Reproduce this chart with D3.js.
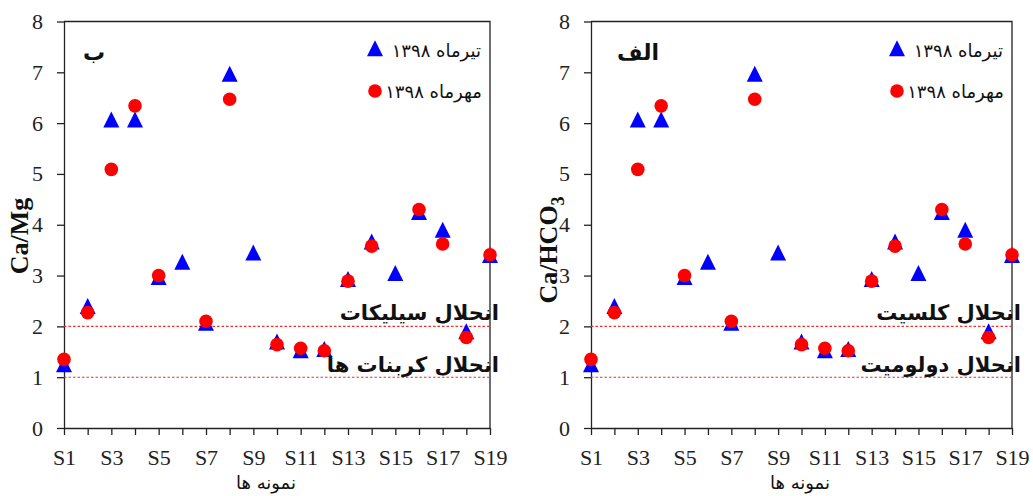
<!DOCTYPE html>
<html>
<head>
<meta charset="utf-8">
<style>
  body { margin: 0; background: #fff; }
  .axis text { font-family: "Liberation Serif", "Times New Roman", serif; font-size: 22px; fill: #222; }
  .axis path, .axis line { stroke: #222; stroke-width: 1.3; }
  .fa { font-family: "DejaVu Sans", "Noto Sans", sans-serif; }
</style>
</head>
<body>
<div id="chart"></div>
<script src="https://d3js.org/d3.v7.min.js"></script>
<script>

// samples on the x axis
var samples = ["S1","S2","S3","S4","S5","S6","S7","S8","S9","S10","S11","S12","S13","S14","S15","S16","S17","S18","S19"];
// only odd samples get a label
var xLabels = ["S1","S3","S5","S7","S9","S11","S13","S15","S17","S19"];
var yTicks = [0,1,2,3,4,5,6,7,8];

// تیرماه ۱۳۹۸ (triangles)
var tir = [1.2, 2.35, 6.02, 6.02, 2.92, 3.22, 2.02, 6.92, 3.4, 1.65, 1.48, 1.5, 2.88, 3.62, 3.0, 4.2, 3.85, 1.85, 3.35];
// مهرماه ۱۳۹۸ (circles), null = no value
var mehr = [1.35, 2.27, 5.09, 6.34, 3.0, null, 2.1, 6.47, null, 1.64, 1.57, 1.52, 2.89, 3.58, null, 4.3, 3.62, 1.78, 3.41];

var limits = [2, 1];

var svg = d3.select("#chart").append("svg")
    .attr("width", 1033)
    .attr("height", 496);

// a triangle a bit taller than the equilateral one, centred on its centroid
var tallTriangle = {
  draw: function(ctx, size) {
    var w = Math.sqrt(size), h = w;
    ctx.moveTo(0, -2 * h / 3);
    ctx.lineTo(w / 2, h / 3);
    ctx.lineTo(-w / 2, h / 3);
    ctx.closePath();
  }
};

function drawPanel(p) {
  var g = svg.append("g");

  var x = d3.scalePoint().domain(samples).range([p.left, p.right]);
  var y = d3.scaleLinear().domain([0, 8]).range([428, 21.5]);

  // frame: top and right lines
  g.append("path")
    .attr("d", "M" + p.left + "," + y(8) + "H" + p.right + "V" + y(0))
    .attr("fill", "none").attr("stroke", "#222").attr("stroke-width", 1.3);

  // x axis
  g.append("g").attr("class", "axis")
    .attr("transform", "translate(0," + y(0) + ")")
    .call(d3.axisBottom(x).tickSize(7).tickSizeOuter(0)
      .tickFormat(function(d){ return xLabels.indexOf(d) >= 0 ? d : ""; }))
    .selectAll("text").attr("y", 37).attr("dy", 0);

  // y axis
  g.append("g").attr("class", "axis")
    .attr("transform", "translate(" + p.left + ",0)")
    .call(d3.axisLeft(y).tickValues(yTicks).tickSize(7).tickSizeOuter(0).tickPadding(14));

  // dotted reference lines
  g.selectAll(".lim").data(limits).enter().append("line")
    .attr("x1", p.left).attr("x2", p.right)
    .attr("y1", function(d){ return y(d); }).attr("y2", function(d){ return y(d); })
    .attr("stroke", "#ee3030").attr("stroke-width", 1.1).attr("stroke-dasharray", "2.5,2");

  // triangles
  var tri = d3.symbol().type(tallTriangle).size(256);
  g.selectAll(".tri").data(tir).enter().append("path")
    .attr("d", tri)
    .attr("fill", "#0000ff")
    .attr("transform", function(d, i){ return "translate(" + x(samples[i]) + "," + y(d) + ")"; });

  // circles
  g.selectAll(".dot").data(mehr.map(function(v, i){ return {s: samples[i], v: v}; })
      .filter(function(d){ return d.v !== null; }))
    .enter().append("circle")
    .attr("cx", function(d){ return x(d.s); })
    .attr("cy", function(d){ return y(d.v); })
    .attr("r", 6.8)
    .attr("fill", "#ff0000");

  // annotations
  g.append("text").attr("class", "fa")
    .attr("x", p.right + 9).attr("y", 320)
    .attr("text-anchor", "end").attr("font-size", 21).attr("font-weight", "bold")
    .attr("fill", "#111").text(p.upper);
  g.append("text").attr("class", "fa")
    .attr("x", p.right + 9).attr("y", 372)
    .attr("text-anchor", "end").attr("font-size", 21).attr("font-weight", "bold")
    .attr("fill", "#111").text(p.lower);

  // panel letter
  g.append("text").attr("class", "fa")
    .attr("x", p.letterX).attr("y", 60)
    .attr("text-anchor", "start").attr("font-size", 22).attr("font-weight", "bold")
    .attr("fill", "#111").text(p.letter);

  // legend
  var lx = p.right - 115;
  g.append("path").attr("d", tri).attr("fill", "#0000ff")
    .attr("transform", "translate(" + lx + "," + 51 + ")");
  g.append("circle").attr("cx", lx).attr("cy", 91).attr("r", 6.8).attr("fill", "#ff0000");
  g.append("text").attr("class", "fa")
    .attr("x", p.right - 9).attr("y", 57).attr("text-anchor", "end")
    .attr("font-size", 18).attr("fill", "#111").text("تیرماه ۱۳۹۸");
  g.append("text").attr("class", "fa")
    .attr("x", p.right - 8).attr("y", 98).attr("text-anchor", "end")
    .attr("font-size", 18).attr("fill", "#111").text("مهرماه ۱۳۹۸");

  // x title
  g.append("text").attr("class", "fa")
    .attr("x", p.xTitleX).attr("y", 489)
    .attr("text-anchor", "middle").attr("font-size", 18).attr("fill", "#111")
    .text("نمونه ها");

  // y title
  var yt = g.append("text")
    .attr("transform", "translate(" + p.titleX + "," + p.titleY + ") rotate(-90)")
    .attr("text-anchor", "middle")
    .attr("font-family", "Liberation Serif, Times New Roman, serif")
    .attr("font-size", 26).attr("font-weight", "bold").attr("fill", "#111");
  yt.append("tspan").text(p.yTitle);
  if (p.sub) yt.append("tspan").attr("dy", 7).attr("font-size", 18).text(p.sub);
}

drawPanel({left: 64, right: 490, titleX: 28, titleY: 236, xTitleX: 266, yTitle: "Ca/Mg", sub: null,
  letter: "ب", letterX: 83, upper: "انحلال سیلیکات", lower: "انحلال کربنات ها"});
drawPanel({left: 591, right: 1012, titleX: 557, titleY: 250, xTitleX: 800, yTitle: "Ca/HCO", sub: "3",
  letter: "الف", letterX: 617, upper: "انحلال کلسیت", lower: "انحلال دولومیت"});

</script>
</body>
</html>
